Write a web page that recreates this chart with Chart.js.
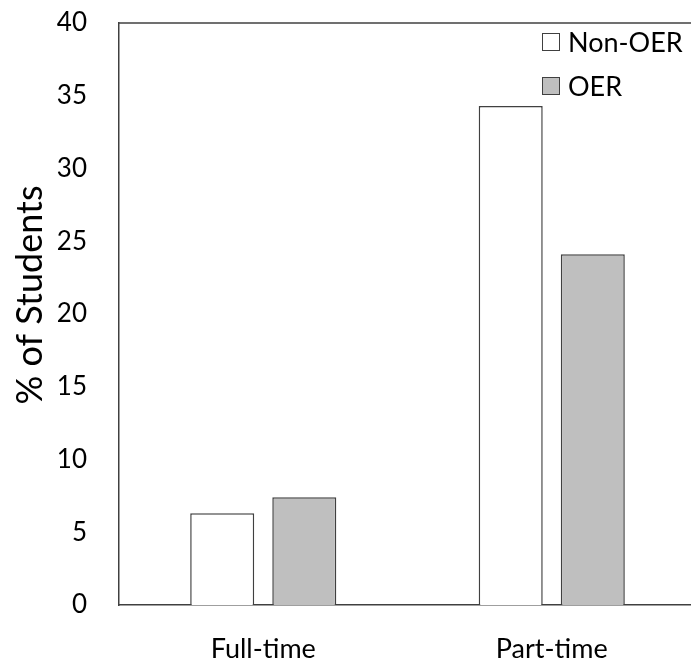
<!DOCTYPE html>
<html>

<head>
    <title>OER enrolment status</title>
    <meta charset="UTF-8">
    <script src="https://cdn.jsdelivr.net/npm/chart.js"></script>
    <style>
        html, body {
            margin: 0;
            padding: 0;
            background: #ffffff;
            overflow: hidden;
        }

        .chart-box {
            position: relative;
            width: 696px;
            height: 658px;
        }
    </style>
</head>

<body>
    <div class="chart-box">
        <canvas id="studentsChart"></canvas>
    </div>

    <script>
        // Data
        var categories = ['Full-time', 'Part-time'];
        var nonOerValues = [6.3, 34.3];
        var oerValues = [7.4, 24.1];
        var yTicks = [0, 5, 10, 15, 20, 25, 30, 35, 40];
        var yTitle = '% of Students';

        var fontFamily = 'Lato, "Open Sans", sans-serif';
        var lineColor = '#404040';

        // Top border, y axis title and legend inside the plot
        var extrasPlugin = {
            id: 'extras',
            afterDraw: function (chart) {
                var ctx = chart.ctx;
                var area = chart.chartArea;
                ctx.save();

                // top line of the plot box
                ctx.strokeStyle = lineColor;
                ctx.lineWidth = 1.5;
                ctx.beginPath();
                ctx.moveTo(area.left, area.top);
                ctx.lineTo(chart.width, area.top);
                ctx.stroke();

                // y axis title
                ctx.fillStyle = '#000';
                ctx.font = '36px ' + fontFamily;
                ctx.textAlign = 'center';
                ctx.textBaseline = 'middle';
                ctx.translate(30, 295);
                ctx.rotate(-Math.PI / 2);
                ctx.fillText(yTitle, 0, 0);
                ctx.setTransform(1, 0, 0, 1, 0, 0);

                // legend
                ctx.font = '27px ' + fontFamily;
                ctx.textAlign = 'left';
                chart.data.datasets.forEach(function (ds, i) {
                    var y = 33 + i * 44;
                    ctx.fillStyle = ds.backgroundColor;
                    ctx.fillRect(542, y, 17, 17);
                    ctx.lineWidth = 1;
                    ctx.strokeStyle = lineColor;
                    ctx.strokeRect(542.5, y + 0.5, 17, 17);
                    ctx.fillStyle = '#000';
                    ctx.fillText(ds.label, 568, y + 10);
                });
                ctx.restore();
            }
        };

        var ctx = document.getElementById('studentsChart').getContext('2d');
        var studentsChart = new Chart(ctx, {
            type: 'bar',
            data: {
                labels: categories,
                datasets: [{
                    label: 'Non-OER',
                    data: nonOerValues,
                    backgroundColor: '#ffffff',
                    borderColor: lineColor,
                    borderWidth: 1.5,
                    borderSkipped: 'bottom'
                }, {
                    label: 'OER',
                    data: oerValues,
                    backgroundColor: '#bfbfbf',
                    borderColor: lineColor,
                    borderWidth: 1.5,
                    borderSkipped: 'bottom'
                }]
            },
            options: {
                responsive: true,
                maintainAspectRatio: false,
                animation: false,
                categoryPercentage: 0.569,
                barPercentage: 0.78,
                layout: {
                    padding: 0
                },
                plugins: {
                    legend: { display: false },
                    tooltip: { enabled: false }
                },
                scales: {
                    x: {
                        grid: { display: false, drawTicks: false },
                        border: { display: true, color: lineColor, width: 1.5 },
                        ticks: {
                            color: '#000',
                            padding: 28,
                            font: { family: fontFamily, size: 27 }
                        },
                        afterFit: function (scale) {
                            scale.height = 53;
                            scale.paddingRight = 0;
                        }
                    },
                    y: {
                        min: 0,
                        max: 40,
                        afterBuildTicks: function (scale) {
                            scale.ticks = yTicks.map(function (v) { return { value: v }; });
                        },
                        grid: { display: false, drawTicks: false },
                        border: { display: true, color: lineColor, width: 1.5 },
                        ticks: {
                            color: '#000',
                            padding: 32,
                            font: { family: fontFamily, size: 26 }
                        },
                        afterFit: function (scale) {
                            scale.width = 119;
                            scale.paddingTop = 23;
                            scale.paddingBottom = 0;
                        }
                    }
                }
            },
            plugins: [extrasPlugin]
        });
    </script>
</body>

</html>
